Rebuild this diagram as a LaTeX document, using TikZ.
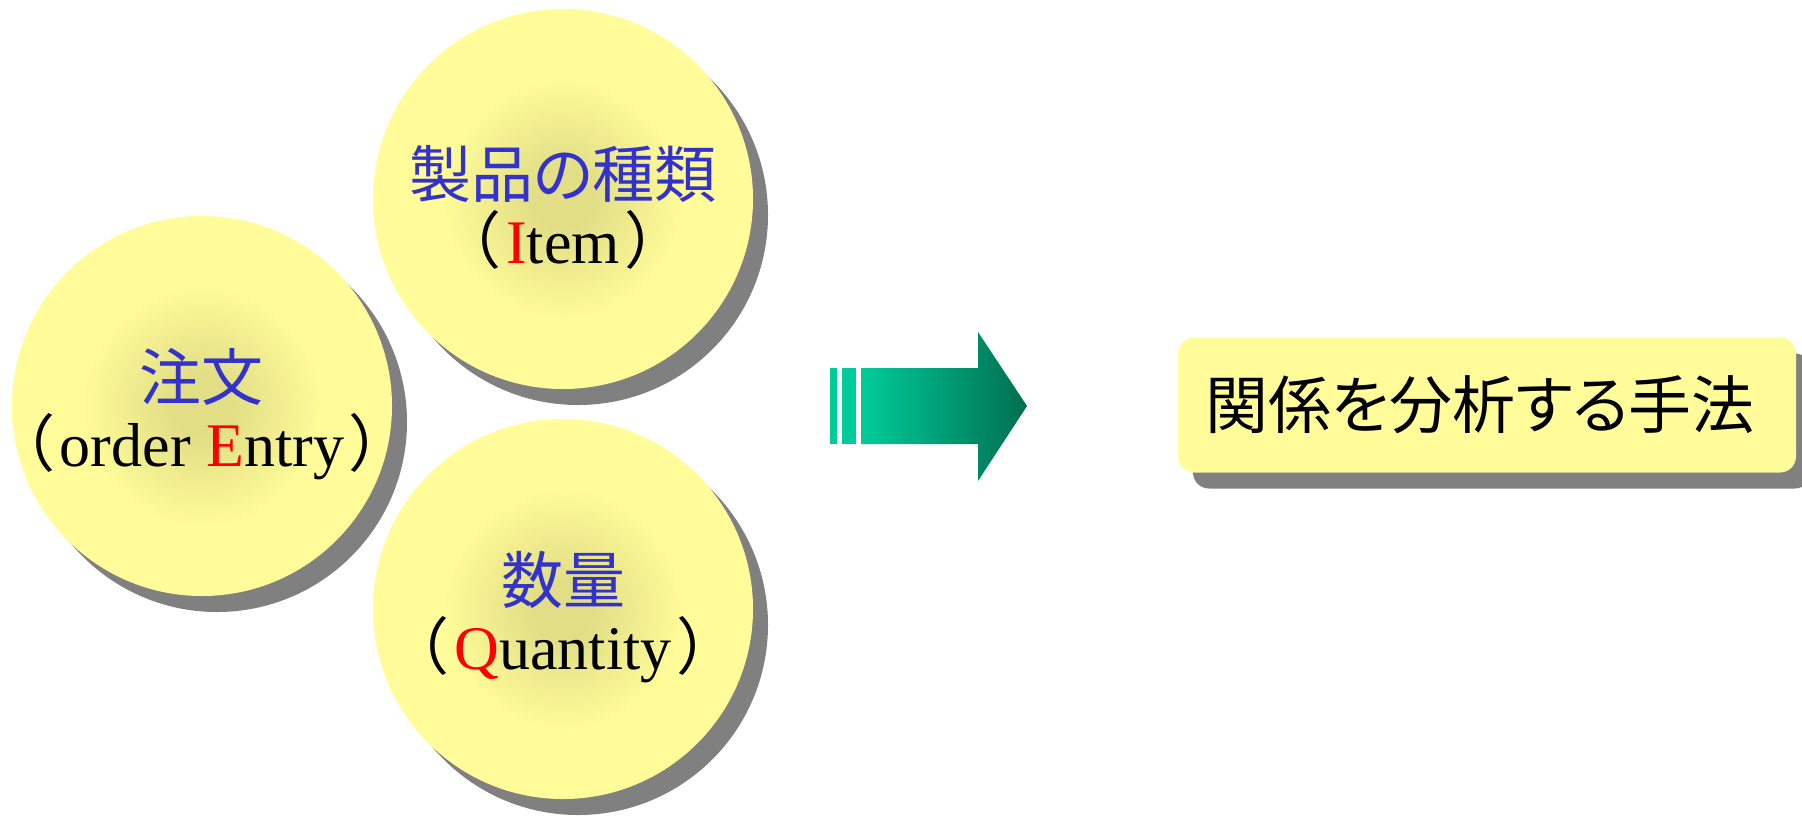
\documentclass[tikz,border=0pt]{standalone}
\usepackage{fontspec}
\setmainfont{Liberation Serif}
\newfontfamily\cjk[RawFeature=+palt]{Noto Sans CJK JP}
\usetikzlibrary{positioning,shadows}
\definecolor{ballmid}{RGB}{226,222,134}
\definecolor{ballrim}{RGB}{255,252,153}
\definecolor{shadowgray}{RGB}{128,128,128}
\definecolor{kanjiblue}{RGB}{51,51,204}
\definecolor{arrowlight}{RGB}{0,204,153}
\definecolor{arrowdark}{RGB}{0,110,80}
\pgfdeclareradialshading{ballshade}{\pgfpoint{0bp}{0bp}}{color(0bp)=(ballmid); color(4bp)=(ballmid); color(16bp)=(ballrim); color(25bp)=(ballrim); color(50bp)=(ballrim)}
\tikzset{ball/.style={circle,minimum size=190pt,inner sep=0pt,shading=ballshade,drop shadow={shadow xshift=7.5pt,shadow yshift=-8pt,fill=shadowgray,opacity=1}}}
\tikzset{balltext/.style={align=center,inner sep=0pt,font=\fontsize{31pt}{33pt}\selectfont}}
\tikzset{resultbox/.style={rectangle,rounded corners=8pt,fill=ballrim,minimum width=309pt,minimum height=67.5pt,font=\cjk\fontsize{31.5pt}{34pt}\selectfont,drop shadow={shadow xshift=7.5pt,shadow yshift=-8pt,fill=shadowgray,opacity=1}}}
\newcommand{\kanji}[1]{{\cjk\color{kanjiblue}#1}}
\newcommand{\initial}[1]{{\color{red}#1}}
\newcommand{\lpar}{{\cjk （}\hspace{3.5pt}}
\newcommand{\rpar}{\hspace{3.5pt}{\cjk ）}}

\begin{document}
\begin{tikzpicture}[x=0.5pt,y=-0.5pt]
\useasboundingbox (0,0) rectangle (1802,816);
% the three circles
\node[ball] (entry) at (202,406) {};
\node[ball] (item) at (563,199) {};
\node[ball] (quantity) at (563,609) {};
\node[balltext] (entry-text) at ([yshift=-4pt]entry.center) {\kanji{注文}\\\lpar order \initial{E}ntry\rpar};
\node[balltext] (item-text) at ([yshift=-4pt]item.center) {\kanji{製品の種類}\\\lpar\initial{I}tem\rpar};
\node[balltext] (quantity-text) at ([yshift=-4pt]quantity.center) {\kanji{数量}\\\lpar\initial{Q}uantity\rpar};
% block arrow
\fill[arrowlight] (830,368) rectangle (837,444);
\fill[arrowlight] (842,368) rectangle (856,444);
\shade[left color=arrowlight,right color=arrowdark] (861,368) -- (978,368) -- (978,332) -- (1027,406) -- (978,481) -- (978,444) -- (861,444) -- cycle;
% result
\node[resultbox] (method) at (1487,405) {\kern-7pt関係を分析する手法};
\end{tikzpicture}
\end{document}
